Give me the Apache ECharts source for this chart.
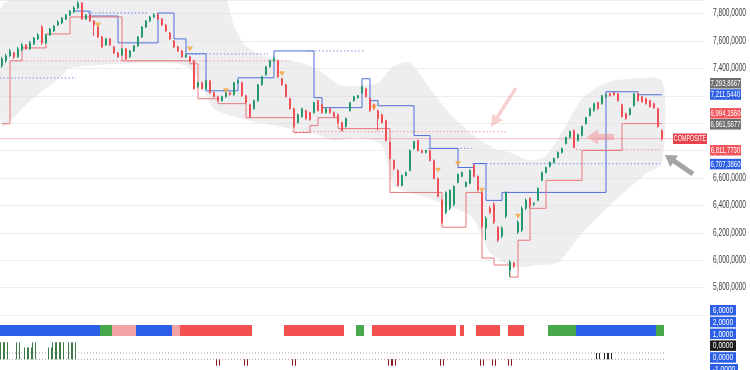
<!DOCTYPE html>
<html><head><meta charset="utf-8">
<script src="https://cdn.jsdelivr.net/npm/echarts@6/dist/echarts.min.js"></script>
<style>html,body{margin:0;padding:0;background:#fff;overflow:hidden}#c{width:750px;height:370px}</style>
</head><body><div id="c"></div>
<script>
// ---------- DATA ----------
const N_CATS = 176;
// [open, close, low, high]
const candles = [
[7419,7470,7405,7485],[7456,7492,7441,7507],[7492,7528,7485,7543],[7514,7485,7470,7521],[7485,7543,7477,7557],
[7536,7572,7528,7587],[7572,7543,7536,7579],[7543,7587,7536,7601],[7579,7623,7572,7630],[7616,7645,7608,7659],
[7703,7587,7572,7717],[7587,7645,7579,7652],[7645,7688,7637,7696],[7674,7710,7667,7717],[7717,7739,7710,7754],
[7732,7768,7725,7776],[7761,7790,7754,7797],[7790,7819,7783,7827],[7812,7841,7805,7856],[7841,7877,7834,7892],
[7877,7761,7754,7885],[7761,7790,7754,7797],[7790,7747,7739,7797],[7747,7717,7637,7754],[7703,7630,7623,7710],
[7630,7557,7550,7637],[7572,7616,7565,7623],[7616,7572,7565,7623],[7557,7514,7507,7565],[7514,7485,7477,7521],
[7499,7543,7492,7550],[7543,7470,7463,7550],[7485,7528,7477,7536],[7528,7565,7521,7572],[7565,7630,7557,7637],
[7630,7703,7623,7710],[7703,7747,7696,7754],[7747,7776,7739,7783],[7776,7790,7768,7805],[7790,7761,7754,7805],
[7761,7717,7710,7768],[7717,7674,7667,7725],[7659,7616,7608,7667],[7601,7557,7550,7608],[7557,7528,7521,7565],
[7528,7485,7477,7536],[7485,7499,7477,7507],[7485,7456,7448,7492],[7456,7252,7245,7463],[7267,7296,7259,7303],
[7296,7252,7245,7303],[7252,7310,7245,7317],[7310,7223,7216,7317],[7223,7194,7187,7230],[7194,7165,7157,7201],
[7165,7194,7157,7201],[7194,7223,7187,7230],[7223,7208,7201,7230],[7208,7296,7201,7303],[7296,7310,7288,7317],
[7296,7201,7194,7303],[7201,7150,7143,7208],[7136,7048,7041,7143],[7106,7165,7099,7172],[7165,7281,7157,7288],
[7281,7339,7274,7347],[7354,7412,7347,7419],[7412,7456,7405,7463],[7456,7470,7448,7485],[7456,7339,7332,7463],
[7325,7281,7274,7332],[7281,7194,7187,7288],[7179,7106,7099,7187],[7106,6976,6968,7114],[7005,7063,6997,7070],
[7048,7106,7041,7114],[7092,7034,7026,7099],[7077,7026,7019,7085],[7077,7150,7070,7157],[7165,7092,7085,7172],
[7136,7077,7070,7143],[7077,7106,7070,7114],[7106,7077,7070,7114],[7077,7048,7041,7085],[7063,7005,6997,7070],
[7005,6947,6939,7012],[6976,7034,6968,7041],[7092,7150,7085,7157],[7165,7194,7157,7201],[7187,7201,7179,7208],
[7223,7267,7216,7274],[7252,7194,7187,7259],[7179,7092,7085,7187],[7136,7106,7099,7143],[7092,7034,6947,7099],
[7063,7005,6997,7070],[7019,6874,6867,7026],[6859,6743,6736,6867],[6728,6670,6656,6736],[6656,6546,6539,6663],
[6546,6619,6539,6626],[6619,6641,6612,6648],[6656,6801,6648,6808],[6816,6867,6808,6874],[6874,6801,6794,6881],
[6801,6787,6779,6808],[6787,6801,6779,6808],[6801,6728,6721,6808],[6728,6597,6590,6736],[6597,6466,6459,6605],
[6437,6277,6263,6445],[6350,6495,6336,6503],[6379,6510,6365,6517],[6408,6539,6394,6546],[6568,6626,6561,6634],
[6612,6641,6605,6648],[6539,6568,6532,6576],[6561,6656,6554,6663],[6692,6612,6605,6699],[6612,6510,6503,6619],
[6495,6248,6234,6503],[6234,6306,6146,6321],[6379,6350,6336,6394],[6408,6277,6263,6423],[6241,6146,6132,6248],
[6176,6234,6161,6248],[6321,6495,6306,6503],[5928,5986,5877,6001],[5979,5957,5943,5986],[6205,6277,6190,6292],
[6219,6379,6205,6394],[6379,6437,6365,6452],[6452,6394,6379,6459],[6408,6416,6394,6423],[6437,6525,6430,6532],
[6583,6641,6576,6648],[6641,6677,6634,6685],[6685,6714,6677,6721],[6714,6743,6706,6750],[6750,6787,6743,6794],
[6787,6816,6779,6823],[6852,6896,6845,6903],[6896,6939,6888,6947],[6947,6823,6816,6954],[6874,6917,6867,6925],
[6910,6976,6903,6983],[6997,7041,6990,7048],[7056,7106,7048,7114],[7092,7143,7085,7150],[7150,7106,7099,7157],
[7143,7201,7136,7208],[7194,7208,7187,7216],[7216,7201,7194,7223],[7223,7208,7201,7230],[7216,7165,7157,7223],
[7136,7048,7041,7143],[7070,7034,7026,7077],[7063,7106,7056,7114],[7128,7216,7121,7223],[7216,7165,7157,7223],
[7194,7157,7150,7201],[7179,7143,7136,7187],[7165,7121,7114,7172],[7143,7114,7106,7150],[7106,6976,6968,7114],
[6947,6888,6874,6954]
];
// step lines: [candle index where level starts, level]
const blueStep = [[18,7819],[22,7783],[29,7587],[39,7805],[43,7616],[46,7507],[51,7237],[59,7332],[68,7528],[78,7187],[80,7114],[90,7325],[92,7165],[94,7128],[103,6910],[107,6816],[114,6677],[118,6706],[121,6437],[125,6495],[151,7230],[159,7208],[165,7208]];
const redStep = [[0,6997],[2,7456],[5,7550],[11,7652],[17,7776],[30,7456],[47,7434],[49,7179],[54,7143],[61,7041],[73,6932],[77,6983],[79,7041],[84,6961],[97,6495],[110,6241],[116,6495],[120,6016],[123,5965],[127,5877],[129,6146],[132,6379],[136,6583],[145,6801],[155,6997],[165,6997]];
// dotted levels: [from index, to index, level]
const dottedBlue = [[0,18,7332],[22,36,7805],[47,66,7507],[77,90,7528],[107,117,6816],[118,164,6706]];
const dottedRed = [[3,72,7456],[73,126,6939],[144,164,6808]];
const lastPrice = 6888;
// envelope cloud
const bandUpperIdx = [0,18,55,58,61,67,75,80,85,90,94,98,102,107,112,118,123,127,132,136,141,145,151,157,165];
const bandUpper = [7856,7928,7928,7710,7565,7477,7441,7368,7274,7274,7296,7419,7441,7252,7070,6910,6816,6787,6728,6765,6983,7179,7296,7325,7310];
const bandLowerIdx = [0,7,15,17,37,46,50,53,62,71,78,83,89,95,98,106,111,117,120,122,128,134,139,145,150,156,161,165];
const bandLower = [6983,7165,7347,7405,7441,7419,7274,7106,7019,6968,6925,6874,6896,6837,6546,6459,6401,6328,6183,6052,5950,5965,5986,6197,6343,6510,6634,6706];
// signal markers
const markerIdx = [24,47,56,70,93,109,114,120,129];
const markerVal = [7717,7543,7237,7361,7114,6656,6706,6510,6321];
// y axis ticks (levels hidden behind price tags are left out)
const yTickValues = [5800,6000,6200,6400,6600,7400,7600,7800];
const yTickLabels = ['5,800,0000','6,000,0000','6,200,0000','6,400,0000','6,600,0000','7,400,0000','7,600,0000','7,800,0000'];
// price tags on the right
const tagTexts = ['7,293,8667','7,211,5440','6,994,1560','6,961,5677','6,811,7730','6,707,3860'];
const tagValues = [7293.8667,7211.544,6994.156,6961.5677,6811.773,6707.386];
const tagKinds = ['gray','blue','red','gray','red','blue'];
// state strip runs: [from, to, state]
const stripRuns = [[0,24,'B'],[25,27,'G'],[28,33,'P'],[34,42,'B'],[43,44,'P'],[45,62,'R'],[71,85,'R'],[89,90,'G'],[93,113,'R'],[115,115,'R'],[119,124,'R'],[127,130,'R'],[137,143,'G'],[144,163,'B'],[164,165,'G']];
// lower indicator
const indUpIdx = [0,1,4,6,7,8,12,13,14,15,17,18];
const indUpVal = [0.8,0.8,0.8,0.55,0.55,0.8,0.55,0.8,0.8,0.8,0.8,0.8];
const indDownIdx = [54,61,73,97,98,110,120,123,127];
const indDownVal = [-0.3,-0.3,-0.3,-0.3,-0.3,-0.3,-0.3,-0.3,-0.3];
const indSmallIdx = [149,151,152];
const indSmallVal = [0.3,0.3,0.3];
const indLevels = [0, 0.3];
const subTagTexts = ['6,0000','2,0000','1,0000','0,0000','0,0000','-1,0000'];
const subTagKinds = ['blue','blue','blue','black','blue','blue'];

// ---------- STYLE ----------
const FONT = '"Liberation Sans",Arial,sans-serif';
const COL = {up:'#26996b', down:'#ef4f55', blue:'#4d6fd8', red:'#e8777a', B:'#2b5fe8', G:'#47a84b', P:'#f3a3a3', R:'#f45050',
  gray:'#6e6e70', tblue:'#2d5fe6', tred:'#f0545a', black:'#1d1d1f'};
const tagFill = {gray:COL.gray, blue:COL.tblue, red:COL.tred, black:COL.black};

const cats = Array.from({length:N_CATS},(_,i)=>String(i));
const stripData = cats.map(()=> '-');
stripRuns.forEach(([a,b,s])=>{for(let i=a;i<=b;i++) stripData[i]={value:1,itemStyle:{color:COL[s]}};});

const chart = echarts.init(document.getElementById('c'), null, {renderer:'canvas'});
const hiddenCat = (g)=>({type:'category', gridIndex:g, data:cats, boundaryGap:true, show:false});
const hiddenVal = (g)=>({type:'value', gridIndex:g, min:-0.5, max:N_CATS-0.5, show:false});

const series = [];
series.push({type:'custom', xAxisIndex:1, yAxisIndex:0, z:1, silent:true, clip:true, data:[[0,7000]],
  renderItem:(params, api)=>{
    const pts=[];
    bandUpperIdx.forEach((ix,k)=>pts.push(api.coord([ix,bandUpper[k]])));
    for(let k=bandLowerIdx.length-1;k>=0;k--) pts.push(api.coord([bandLowerIdx[k],bandLower[k]]));
    return {type:'polygon', shape:{points:pts, smooth:0.25}, style:{fill:'rgba(222,222,228,0.5)'}};
  }});
const dotLine = (a,b,v,color)=>({type:'line', xAxisIndex:1, yAxisIndex:0, z:2, symbol:'none', silent:true,
  data:[[a-0.5,v],[b+0.5,v]], lineStyle:{color, width:1.3, type:[1.4,2.2]}});
dottedBlue.forEach(([a,b,v])=>series.push(dotLine(a,b,v,'#8ea3e6')));
dottedRed.forEach(([a,b,v])=>series.push(dotLine(a,b,v,'#f2a5a5')));
series.push({type:'line', xAxisIndex:1, yAxisIndex:0, z:2, symbol:'none', silent:true,
  data:[[-0.5,lastPrice],[167.75,lastPrice]], lineStyle:{color:'rgba(240,80,85,0.35)', width:1}});
series.push({type:'line', xAxisIndex:1, yAxisIndex:0, z:3, symbol:'none', step:'end', data:blueStep, lineStyle:{color:COL.blue, width:1}});
series.push({type:'line', xAxisIndex:1, yAxisIndex:0, z:3, symbol:'none', step:'end', data:redStep, lineStyle:{color:COL.red, width:1}});
series.push({type:'candlestick', xAxisIndex:0, yAxisIndex:0, z:4, data:candles, barMaxWidth:3,
  itemStyle:{color:COL.up, color0:COL.down, borderColor:COL.up, borderColor0:COL.down, borderWidth:1}});
series.push({type:'scatter', xAxisIndex:0, yAxisIndex:0, z:5, symbol:'triangle', symbolRotate:180, symbolSize:[6,5],
  data:markerIdx.map((ix,k)=>[ix,markerVal[k]]), itemStyle:{color:'#f5a13a'}});
// strip
series.push({type:'bar', xAxisIndex:2, yAxisIndex:1, data:stripData, barWidth:'100%', barGap:'0%', silent:true});
// indicator: pairs of thin strokes
const indSeries = (idx, vals, color)=>({type:'custom', xAxisIndex:4, yAxisIndex:2, silent:true, z:3,
  data: idx.map((ix,k)=>[ix, vals[k]]),
  renderItem:(params, api)=>{
    const a = api.coord([api.value(0), 0]), b = api.coord([api.value(0), api.value(1)]);
    const y0 = Math.min(a[1], b[1]), h = Math.abs(a[1]-b[1]);
    return {type:'group', children:[
      {type:'rect', shape:{x:Math.round(a[0])-2, y:y0, width:1, height:h}, style:{fill:color}},
      {type:'rect', shape:{x:Math.round(a[0])+1, y:y0, width:1, height:h}, style:{fill:color}}
    ]};
  }});
series.push(indSeries(indUpIdx, indUpVal, '#3f7a48'));
series.push(indSeries(indDownIdx, indDownVal, '#8a1c22'));
series.push(indSeries(indSmallIdx, indSmallVal, '#2a2a2a'));
indLevels.forEach(v=>series.push({type:'line', xAxisIndex:4, yAxisIndex:2, symbol:'none', silent:true, z:2,
  data:[[-0.5,v],[165.5,v]], lineStyle:{color:'#a8a8a8', width:1, type:[1,2]}}));

chart.setOption({
  animation:false,
  backgroundColor:'#ffffff',
  grid:[
    {left:0, right:46, top:-1, height:316},
    {left:0, right:46, top:325, height:11},
    {left:0, right:46, top:338, height:32}
  ],
  xAxis:[hiddenCat(0), hiddenVal(0), hiddenCat(1), hiddenCat(2), hiddenVal(2)],
  yAxis:[
    {type:'value', gridIndex:0, position:'right', min:5600, max:7900, interval:200,
     axisLine:{show:false}, axisTick:{show:false}, axisLabel:{show:false},
     splitLine:{lineStyle:{color:'#ededed', width:1}}},
    {type:'value', gridIndex:1, min:0, max:1, show:false},
    {type:'value', gridIndex:2, min:-0.5, max:1, show:false}
  ],
  series
});

// ---------- axis labels & annotations ----------
function arrow(x1,y1,x2,y2,w,hw,hl){
  const dx=x2-x1, dy=y2-y1, L=Math.hypot(dx,dy), ux=dx/L, uy=dy/L, px=-uy, py=ux;
  const bx=x2-ux*hl, by=y2-uy*hl;
  return [[x1+px*w/2,y1+py*w/2],[bx+px*w/2,by+py*w/2],[bx+px*hw/2,by+py*hw/2],[x2,y2],
          [bx-px*hw/2,by-py*hw/2],[bx-px*w/2,by-py*w/2],[x1-px*w/2,y1-py*w/2]];
}
const gfx = [];
yTickValues.forEach((v,k)=>{
  const y = chart.convertToPixel({yAxisIndex:0}, v);
  gfx.push({type:'text', z:50, x:713, y:y, scaleX:0.66,
    style:{text:yTickLabels[k], fill:'#3a3a3a', font:'10px '+FONT, align:'left', verticalAlign:'middle'}});
});
const tagShift = [0,0,-11,-4.5,1,0.5];
tagTexts.forEach((t,k)=>{
  const y = chart.convertToPixel({yAxisIndex:0}, tagValues[k]) + tagShift[k];
  gfx.push({type:'rect', z:100, shape:{x:710,y:y-5,width:31,height:10.5}, style:{fill:tagFill[tagKinds[k]]}});
  gfx.push({type:'text', z:101, x:725.5, y:y+0.3, scaleX:0.63,
    style:{text:t, fill:'#fff', font:'9.5px '+FONT, align:'center', verticalAlign:'middle'}});
});
const py = chart.convertToPixel({yAxisIndex:0}, lastPrice);
gfx.push({type:'rect', z:100, shape:{x:673,y:py-5,width:34,height:10.5}, style:{fill:'#e8434c'}});
gfx.push({type:'text', z:101, x:690, y:py+0.3, scaleX:0.6,
  style:{text:'COMPOSITE', fill:'#fff', font:'9px '+FONT, align:'center', verticalAlign:'middle'}});
subTagTexts.forEach((t,k)=>{
  const y = 310 + k*11.8, w = k===5?28:26;
  gfx.push({type:'rect', z:100, shape:{x:710,y:y-5,width:w,height:10.5}, style:{fill:tagFill[subTagKinds[k]]}});
  gfx.push({type:'text', z:101, x:710+w/2, y:y+0.3, scaleX:0.7,
    style:{text:t, fill:'#fff', font:'9.5px '+FONT, align:'center', verticalAlign:'middle'}});
});
gfx.push({type:'polygon', z:90, shape:{points:arrow(516,88,491,127,3.5,12,12)}, style:{fill:'rgba(240,150,150,0.45)'}});
gfx.push({type:'polygon', z:90, shape:{points:arrow(614,137,587,137,6,15,11)}, style:{fill:'rgba(240,140,140,0.5)'}});
gfx.push({type:'polygon', z:90, shape:{points:arrow(693,174,665,155,5,14,11)}, style:{fill:'rgba(125,125,128,0.7)'}});
chart.setOption({graphic:gfx});
</script></body></html>
